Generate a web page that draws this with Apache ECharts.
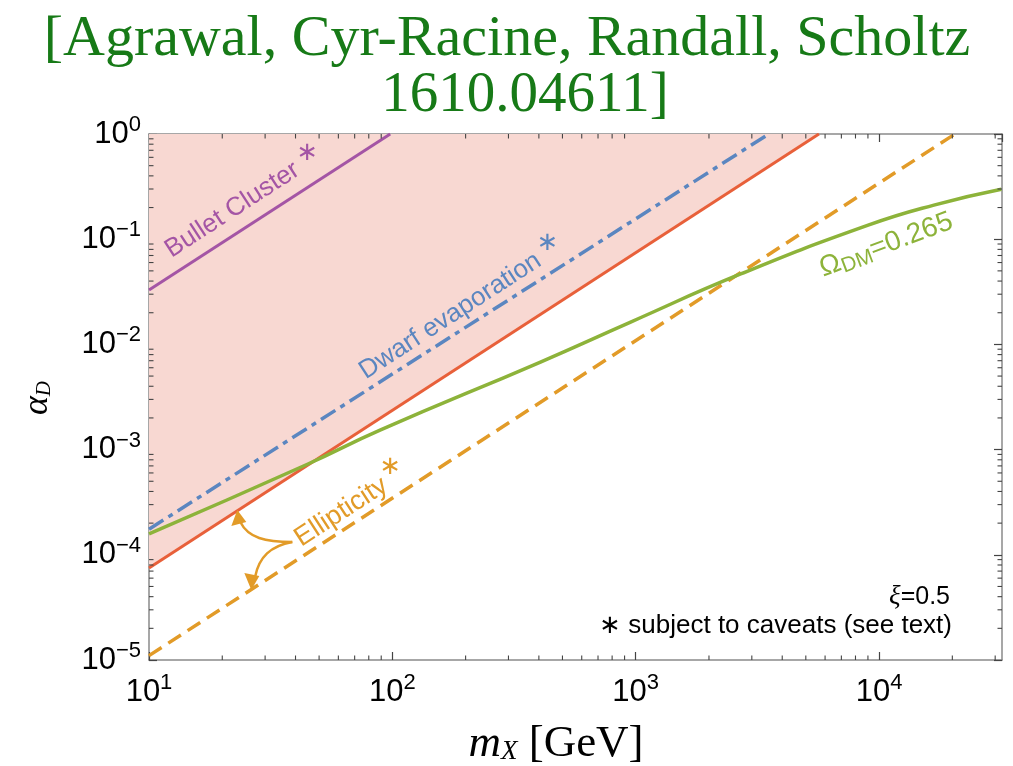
<!DOCTYPE html>
<html>
<head>
<meta charset="utf-8">
<script src="https://cdn.jsdelivr.net/npm/echarts@6/dist/echarts.min.js"></script>
<style>
html,body{margin:0;padding:0;background:#fff;}
#chart{width:1013px;height:766px;}
</style>
</head>
<body>
<div id="chart"></div>
<script>
// ---------------- data ----------------
const xRange = [10, 32000];          // m_X [GeV]
const yRange = [1e-5, 1];            // alpha_D
const xDecades = [10, 100, 1000, 10000];
const yDecades = [1e-5, 1e-4, 1e-3, 1e-2, 1e-1];
const minorMultipliers = [2, 3, 4, 5, 6, 7, 8, 9];

// boundary lines (alpha_D vs m_X), endpoints
const redM = [10, 5660];       const redA = [7.5e-5, 1];       // ellipticity (solid) - excluded region above
const orangeM = [10, 20500];   const orangeA = [1.1e-5, 1];    // ellipticity (dashed)
const blueM = [10, 3520];      const blueA = [1.75e-4, 1];     // dwarf evaporation
const purpleM = [10, 98];      const purpleA = [0.0329, 1];    // bullet cluster

// relic abundance curve Omega_DM = 0.265
const greenM = [10, 45, 89, 406, 953, 2700, 9020, 16800, 31800];
const greenA = [1.58e-4, 7.3e-4, 1.53e-3, 6.8e-3, 0.0163, 0.0467, 0.136, 0.211, 0.298];

// annotation anchors (data coordinates)
const bulletLabel = [22, 0.19];     const bulletStar = [44.7, 0.66];
const dwarfLabel = [173, 0.0186];   const dwarfStar = [434, 0.092];
const ellipLabel = [61.7, 2.55e-4]; const ellipStar = [98, 6.8e-4];
const omegaLabel = [10700, 0.088];

// ---------------- helpers ----------------
const C = {
  red: '#e8603a', orange: '#e29b28', blue: '#5b86c0', purple: '#a455a5',
  green: '#8db33a', fill: '#f8d8d2', axis: '#8a8a8a', title: '#177a17'
};
function zip(a, b) { return a.map((v, i) => [v, b[i]]); }
function supLabel(v) {
  const e = Math.round(Math.log10(v));
  if (Math.abs(Math.log10(v) - e) > 1e-6) return '';
  return '{b|10}{s|' + String(e).replace('-', '\u2212') + '}';
}
const labelRich = {
  b: { fontFamily: 'Liberation Sans', fontSize: 31, color: '#000' },
  s: { fontFamily: 'Liberation Sans', fontSize: 22, color: '#000', padding: [0, 0, 18, 0] }
};

// minor ticks data
const minorData = [];
xDecades.forEach(d => minorMultipliers.forEach(k => {
  const v = d * k; if (v < xRange[1]) minorData.push([v, yRange[1], 0]);
}));
yDecades.forEach(d => minorMultipliers.forEach(k => {
  minorData.push([xRange[0], d * k, 1]);
}));

const chart = echarts.init(document.getElementById('chart'), null, { renderer: 'canvas' });

const axisCommon = {
  type: 'log', logBase: 10,
  axisLine: { show: true, lineStyle: { color: C.axis, width: 1.5 } },
  axisTick: { show: true, inside: true, length: 8, lineStyle: { color: '#444', width: 1.2 } },
  splitLine: { show: false }
};

const option = {
  backgroundColor: '#fff',
  animation: false,
  grid: { left: 149, right: 11, top: 134, bottom: 106, containLabel: false },
  xAxis: [
    Object.assign({}, axisCommon, {
      min: xRange[0], max: xRange[1], position: 'bottom',
      axisLabel: { margin: 12, formatter: supLabel, rich: labelRich, showMaxLabel: false }
    }),
    Object.assign({}, axisCommon, {
      min: xRange[0], max: xRange[1], position: 'top', axisLabel: { show: false }
    })
  ],
  yAxis: [
    Object.assign({}, axisCommon, {
      min: yRange[0], max: yRange[1], position: 'left',
      axisLabel: { margin: 8, formatter: supLabel, rich: labelRich }
    }),
    Object.assign({}, axisCommon, {
      min: yRange[0], max: yRange[1], position: 'right', axisLabel: { show: false }
    })
  ],
  series: [
    {
      type: 'custom', name: 'minor', xAxisIndex: 0, yAxisIndex: 0, z: 5, silent: true,
      data: minorData, clip: false,
      renderItem: function (params, api) {
        const cs = params.coordSys;
        const p = api.coord([api.value(0), api.value(1)]);
        const L = 4.5;
        const st = { stroke: '#444', lineWidth: 1.1 };
        if (api.value(2) === 0) {
          const x = p[0];
          return { type: 'group', children: [
            { type: 'line', shape: { x1: x, y1: cs.y + cs.height, x2: x, y2: cs.y + cs.height - L }, style: st },
            { type: 'line', shape: { x1: x, y1: cs.y, x2: x, y2: cs.y + L }, style: st }
          ] };
        }
        const y = p[1];
        return { type: 'group', children: [
          { type: 'line', shape: { x1: cs.x, y1: y, x2: cs.x + L, y2: y }, style: st },
          { type: 'line', shape: { x1: cs.x + cs.width, y1: y, x2: cs.x + cs.width - L, y2: y }, style: st }
        ] };
      }
    },
    {
      type: 'line', name: 'red', data: zip(redM, redA), showSymbol: false, z: 2,
      lineStyle: { color: C.red, width: 3 },
      areaStyle: { origin: 'end', color: C.fill, opacity: 1 }
    },
    {
      type: 'line', name: 'blue', data: zip(blueM, blueA), showSymbol: false, z: 3,
      lineStyle: { color: C.blue, width: 3.5, type: [17, 6, 5, 6] }
    },
    {
      type: 'line', name: 'purple', data: zip(purpleM, purpleA), showSymbol: false, z: 3,
      lineStyle: { color: C.purple, width: 3 }
    },
    {
      type: 'line', name: 'orange', data: zip(orangeM, orangeA), showSymbol: false, z: 3,
      lineStyle: { color: C.orange, width: 3.5, type: [15, 8] }
    },
    {
      type: 'line', name: 'green', data: zip(greenM, greenA), showSymbol: false, smooth: 0.5, z: 4,
      lineStyle: { color: C.green, width: 3.5 }
    }
  ]
};
chart.setOption(option);

function px(pt) { return chart.convertToPixel({ xAxisIndex: 0, yAxisIndex: 0 }, pt); }
const ang = 33 * Math.PI / 180;
function rotText(pt, text, color, size, rot, rich) {
  const p = px(pt);
  const t = { type: 'text', x: p[0], y: p[1], rotation: rot, z: 20,
    style: { text: text, fill: color, font: size + 'px "Liberation Sans"', align: 'center', verticalAlign: 'middle' } };
  if (rich) t.style.rich = rich;
  return t;
}
function star(pt, color, size) {
  const p = px(pt);
  return { type: 'text', x: p[0], y: p[1], z: 20,
    style: { text: '\u2217', fill: color, font: size + 'px "DejaVu Sans"', align: 'center', verticalAlign: 'middle' } };
}

const ep = px(ellipLabel);
// arrow geometry offsets relative to the Ellipticity label anchor
const ax = ep[0], ay = ep[1];
const arrowStyle = { stroke: C.orange, lineWidth: 2.5, fill: null };
const graphics = [
  // title
  { type: 'text', x: 507, y: 40, z: 30, style: { text: '[Agrawal, Cyr-Racine, Randall, Scholtz', fill: C.title,
    font: '58px "Liberation Serif"', align: 'center', verticalAlign: 'middle' } },
  { type: 'text', x: 525, y: 96, z: 30, style: { text: '1610.04611]', fill: C.title,
    font: '57px "Liberation Serif"', align: 'center', verticalAlign: 'middle' } },
  // axis names
  { type: 'text', x: 556, y: 744, z: 30, style: { text: '{i|m}{sub|X}{r| [GeV]}', align: 'center', verticalAlign: 'middle',
    rich: { i: { font: 'italic 45px "Liberation Serif"', fill: '#000' },
            sub: { font: 'italic 27px "Liberation Serif"', fill: '#000', padding: [15, 0, 0, 0] },
            r: { font: '45px "Liberation Serif"', fill: '#000' } } } },
  { type: 'text', x: 38, y: 398, rotation: Math.PI / 2, z: 30, style: { text: '{i|\u03b1}{sub|D}', align: 'center', verticalAlign: 'middle',
    rich: { i: { font: 'italic 36px "Liberation Serif"', fill: '#000' },
            sub: { font: 'italic 21px "Liberation Serif"', fill: '#000', padding: [13, 0, 0, 0] } } } },
  // line labels
  rotText(bulletLabel, 'Bullet Cluster', C.purple, 26, ang),
  star(bulletStar, C.purple, 26),
  rotText(dwarfLabel, 'Dwarf evaporation', C.blue, 26, ang),
  star(dwarfStar, C.blue, 26),
  rotText(ellipLabel, 'Ellipticity', C.orange, 27, ang),
  star(ellipStar, C.orange, 26),
  rotText(omegaLabel, '{a|\u03a9}{b|DM}{a|=0.265}', C.green, 28, 20.5 * Math.PI / 180, {
    a: { font: '28px "Liberation Sans"', fill: C.green },
    b: { font: '21px "Liberation Sans"', fill: C.green, padding: [11, 0, 0, 0] } }),
  // ellipticity arrows
  { type: 'bezierCurve', z: 20, shape: { x1: ax - 49, y1: ay + 30, cpx1: ax - 76, cpy1: ay + 30, cpx2: ax - 93, cpy2: ay + 26, x2: ax - 101, y2: ay + 10 }, style: arrowStyle },
  { type: 'polygon', z: 20, shape: { points: [[ax - 104, ay - 2], [ax - 110, ay + 14], [ax - 95, ay + 10]] }, style: { fill: C.orange } },
  { type: 'bezierCurve', z: 20, shape: { x1: ax - 49, y1: ay + 30, cpx1: ax - 71, cpy1: ay + 34, cpx2: ax - 82, cpy2: ay + 45, x2: ax - 86, y2: ay + 64 }, style: arrowStyle },
  { type: 'polygon', z: 20, shape: { points: [[ax - 90, ay + 78], [ax - 97, ay + 61], [ax - 82, ay + 64]] }, style: { fill: C.orange } },
  // corner notes
  { type: 'text', x: 950, y: 597, z: 20, style: { text: '{i|\u03be}=0.5', align: 'right', verticalAlign: 'middle',
    font: '25px "Liberation Sans"', fill: '#000',
    rich: { i: { font: 'italic 27px "Liberation Serif"', fill: '#000' } } } },
  { type: 'text', x: 952, y: 626, z: 20, style: { text: '\u2217 subject to caveats (see text)', align: 'right', verticalAlign: 'middle',
    font: '26px "Liberation Sans"', fill: '#000' } }
];
chart.setOption({ graphic: graphics });
</script>
</body>
</html>
